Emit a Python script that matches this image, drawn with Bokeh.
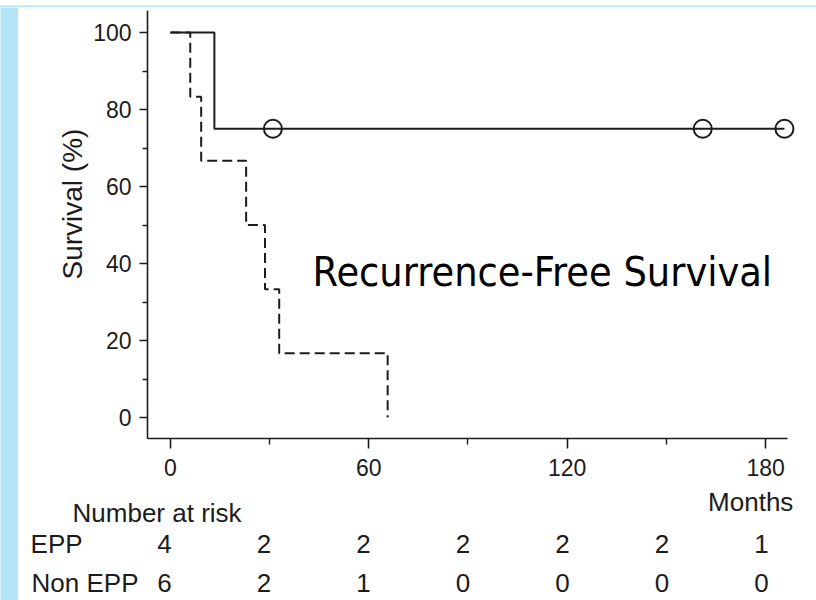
import math
from bokeh.plotting import figure
from bokeh.models import Range1d, FixedTicker, Label
from bokeh.layouts import row, column
from bokeh.core.properties import value
from bokeh.embed import file_html
from bokeh.resources import INLINE

# ---- data ----
epp_time = [0, 13.3, 185.7]
epp_surv = [100, 75, 75]
epp_cens_time = [31, 161, 185.7]
epp_cens_surv = [75, 75, 75]
non_time = [0, 6.0, 9.3, 22.9, 28.6, 32.9, 65.7]
non_surv = [100, 83.3, 66.7, 50.0, 33.3, 16.7, 0]
risk_times = [0, 30, 60, 90, 120, 150, 180]
risk_epp = [4, 2, 2, 2, 2, 2, 1]
risk_non = [6, 2, 1, 0, 0, 0, 0]
y_ticks = [0, 20, 40, 60, 80, 100]
y_minor = [10, 30, 50, 70, 90]
x_ticks = [0, 60, 120, 180]
x_minor = [30, 90, 150]

INK = "#1c1c1c"
BLUE = "#b3e5f6"
FONT = "Liberation Sans"


def blank(w, h, color, xr=None, yr=None):
    kw = {}
    if xr is not None:
        kw["x_range"] = xr
    if yr is not None:
        kw["y_range"] = yr
    f = figure(width=w, height=h, toolbar_location=None, output_backend="svg",
               x_axis_type=None, y_axis_type=None, min_border=0,
               background_fill_color=color, border_fill_color=color,
               outline_line_color=None, **kw)
    f.grid.visible = False
    return f


top_strip = blank(816, 7, BLUE)
left_strip = blank(18, 593, BLUE)

# ---- main plot ----
p = figure(width=726, height=478, x_range=Range1d(-6.93, 195.4),
           y_range=Range1d(-5.45, 106.5), toolbar_location=None,
           output_backend="svg", min_border_left=55, min_border_right=0,
           min_border_top=0, min_border_bottom=47,
           background_fill_color="white", border_fill_color="white")
p.outline_line_color = None
p.grid.visible = False

for ax in (p.xaxis[0], p.yaxis[0]):
    ax.axis_line_color = INK
    ax.axis_line_width = 1.6
    ax.major_tick_line_color = INK
    ax.minor_tick_line_color = INK
    ax.major_tick_line_width = 1.6
    ax.minor_tick_line_width = 1.4
    ax.major_tick_in = 0
    ax.minor_tick_in = 0
    ax.major_label_text_font = FONT
    ax.major_label_text_font_size = "23px"
    ax.major_label_text_color = INK

p.xaxis[0].ticker = FixedTicker(ticks=x_ticks, minor_ticks=x_minor)
p.yaxis[0].ticker = FixedTicker(ticks=y_ticks, minor_ticks=y_minor)
p.xaxis[0].bounds = (-6.93, 186.6)
p.yaxis[0].bounds = (-5.45, 105.7)
p.xaxis[0].major_tick_out = 10
p.xaxis[0].minor_tick_out = 6
p.yaxis[0].major_tick_out = 8
p.yaxis[0].minor_tick_out = 5
p.xaxis[0].major_label_standoff = 10
p.yaxis[0].major_label_standoff = 8

p.step(epp_time, epp_surv, mode="after", line_color=INK, line_width=2)
p.step(non_time, non_surv, mode="after", line_color=INK, line_width=2,
       line_dash="10 5")
p.scatter(epp_cens_time, epp_cens_surv, marker="circle", size=18,
          fill_color=None, line_color=INK, line_width=2)

p.add_layout(Label(x=43.0, y=37.8, text="Recurrence-Free Survival",
                   text_font="DejaVu Sans Condensed", text_font_size="41px",
                   text_color="black", text_baseline="middle"))

# ---- y-axis title panel ----
lab = blank(72, 478, "white", Range1d(0, 72), Range1d(0, 478))
lab.text(x=[54], y=[260], text=["Survival (%)"], angle=math.pi / 2,
         text_align="center", text_baseline="middle",
         text_font=value(FONT), text_font_size="28px", text_color=INK)

# ---- number-at-risk table (same month scale as main plot) ----
tab = blank(798, 115, "white", Range1d(-45.23, 195.38), Range1d(0, 115))
tab.text(x=[188.4], y=[99], text=["Months"], text_align="right",
         text_baseline="middle", text_font=value(FONT),
         text_font_size="26px", text_color=INK)
tab.text(x=[-28.94], y=[88], text=["Number at risk"], text_align="left",
         text_baseline="middle", text_font=value(FONT),
         text_font_size="26px", text_color=INK)
tab.text(x=[-41.6, -41.3], y=[57, 18], text=["EPP", "Non EPP"],
         text_align="left", text_baseline="middle", text_font=value(FONT),
         text_font_size="26px", text_color=INK)
tab.text(x=risk_times, y=[57] * len(risk_times), text=[str(v) for v in risk_epp],
         x_offset=-4, text_align="center", text_baseline="middle",
         text_font=value(FONT), text_font_size="26px", text_color=INK)
tab.text(x=risk_times, y=[18] * len(risk_times), text=[str(v) for v in risk_non],
         x_offset=-4, text_align="center", text_baseline="middle",
         text_font=value(FONT), text_font_size="26px", text_color=INK)

layout = column(top_strip, row(left_strip, column(row(lab, p), tab)))
open("out.html", "w").write(file_html(layout, INLINE))
